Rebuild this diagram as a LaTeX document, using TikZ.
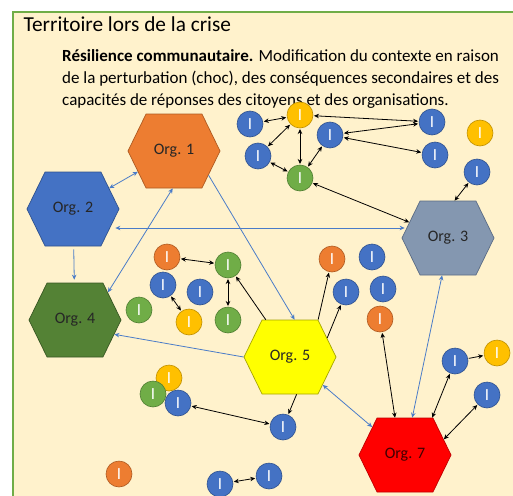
\documentclass[tikz,border=0pt]{standalone}
\usepackage{fontspec}
\setmainfont{Carlito}
\usetikzlibrary{shapes.symbols,arrows.meta,calc}
\definecolor{cream}{HTML}{FFF2CC}
\definecolor{frame}{HTML}{70AD47}
\definecolor{cB}{HTML}{4472C4}\definecolor{cBd}{HTML}{2F528F}
\definecolor{cY}{HTML}{FFC000}\definecolor{cYd}{HTML}{BF9000}
\definecolor{cG}{HTML}{70AD47}\definecolor{cGd}{HTML}{507E32}
\definecolor{cO}{HTML}{ED7D31}\definecolor{cOd}{HTML}{AE5A21}
\definecolor{hO}{HTML}{ED7D31}\definecolor{hOd}{HTML}{AE5A21}
\definecolor{hB}{HTML}{4472C4}\definecolor{hBd}{HTML}{2F528F}
\definecolor{hS}{HTML}{8497B0}\definecolor{hSd}{HTML}{5A6B85}
\definecolor{hG}{HTML}{548235}\definecolor{hGd}{HTML}{385723}
\definecolor{hY}{HTML}{FFFF00}\definecolor{hYd}{HTML}{A5A500}
\definecolor{hR}{HTML}{FF0000}\definecolor{hRd}{HTML}{C00000}
\definecolor{lblue}{HTML}{4A7CC8}
\tikzset{
  hexa/.style={signal, signal to=east and west, signal pointer angle=128,
    minimum width=92pt, minimum height=74pt, inner sep=0pt, line width=0.7pt,
    font=\fontsize{16}{18}\selectfont, text=black!85},
  ind/.style={circle, minimum size=26pt, inner sep=0pt, line width=0.6pt,
    text=white, font=\fontsize{17}{17}\selectfont, outer sep=1pt},
  iB/.style={ind, fill=cB, draw=cBd},
  iY/.style={ind, fill=cY, draw=cYd},
  iG/.style={ind, fill=cG, draw=cGd},
  iO/.style={ind, fill=cO, draw=cOd},
  tip/.tip={Stealth[length=5pt,width=4.5pt]},
  darr/.style={tip-tip, line width=0.8pt, draw=black},
  sarr/.style={-tip, line width=0.8pt, draw=black},
  bdarr/.style={tip-tip, line width=0.8pt, draw=lblue},
  bsarr/.style={-tip, line width=0.8pt, draw=lblue},
}
\begin{document}
\begin{tikzpicture}[x=1pt,y=-1pt]
\useasboundingbox (0,0) rectangle (513,495);
\clip (0,0) rectangle (513,495);
\fill[white] (0,0) rectangle (513,495);
\draw[frame, fill=cream, line width=2pt] (13,12) rectangle (540,520);
\node[anchor=base west, font=\fontsize{21.3}{24}\selectfont] (title) at (20,31) {Territoire lors de la crise};
\node[anchor=base west, font=\fontsize{17}{22}\selectfont, inner sep=0pt] (l1) at (62,61) {\textbf{Résilience communautaire.} Modification du contexte en raison};
\node[anchor=base west, font=\fontsize{17}{22}\selectfont, inner sep=0pt] (l2) at (62,83) {de la perturbation (choc), des conséquences secondaires et des};
\node[anchor=base west, font=\fontsize{17}{22}\selectfont, inner sep=0pt] (l3) at (62,105) {capacités de réponses des citoyens et des organisations.};

% organisations
\node[hexa, fill=hO, draw=hOd] (o1) at (174,151) {Org. 1};
\node[hexa, fill=hB, draw=hBd] (o2) at (73,209) {Org. 2};
\node[hexa, fill=hS, draw=hSd] (o3) at (448,238) {Org. 3};
\node[hexa, fill=hG, draw=hGd] (o4) at (75,320) {Org. 4};
\node[hexa, fill=hY, draw=hYd] (o5) at (290,357) {Org. 5};
\node[hexa, fill=hR, draw=hRd, text=black!75!red] (o7) at (405,455) {Org. 7};

% individuals
\node[iB] (c1) at (250,124) {I};
\node[iY] (c2) at (300,115) {I};
\node[iB] (c3) at (330,135) {I};
\node[iB] (c4) at (432,122) {I};
\node[iB] (c5) at (258,156) {I};
\node[iG] (c6) at (300,178) {I};
\node[iB] (c7) at (435,155) {I};
\node[iY] (c8) at (480,133) {I};
\node[iB] (c9) at (477,172) {I};
\node[iO] (d1) at (167,257) {I};
\node[iG] (d2) at (228,265) {I};
\node[iB] (d3) at (163,285) {I};
\node[iB] (d4) at (200,292) {I};
\node[iG] (d5) at (139,310) {I};
\node[iY] (d6) at (189,322) {I};
\node[iG] (d7) at (228,320) {I};
\node[iO] (e1) at (332,259) {I};
\node[iB] (e2) at (372,257) {I};
\node[iB] (e3) at (346,292) {I};
\node[iB] (e4) at (383,289) {I};
\node[iO] (e5) at (380,319) {I};
\node[iY] (f1) at (169,378) {I};
\node[iG] (f2) at (153,394) {I};
\node[iB] (f3) at (178,403) {I};
\node[iB] (f4) at (283,427) {I};
\node[iO] (f5) at (119,474) {I};
\node[iB] (f6) at (220,484) {I};
\node[iB] (f7) at (269,476) {I};
\node[iB] (g1) at (455,361) {I};
\node[iY] (g2) at (497,353) {I};
\node[iB] (g3) at (487,395) {I};

% black connectors
\draw[darr] (c1) -- (c2);
\draw[darr] (c2) -- (c4);
\draw[darr] (c2) -- (c5);
\draw[darr] (c2) -- (c6);
\draw[darr] (c5) -- (c6);
\draw[darr] (c3) -- (c6);
\draw[darr] (c3) -- (c4);
\draw[darr] (c3) -- (c7);
\draw[darr] (c6) -- (o3);
\draw[darr] (c9) -- (o3.80);
\draw[darr] (d1) -- (d2);
\draw[darr] (d3) -- (d6);
\draw[darr] (d2) -- (d7);
\draw[sarr] (o5.123) -- (d2);
\draw[sarr] (o5.53) -- (e1);
\draw[sarr] (o5.27) -- (e3);
\draw[darr] (e5) -- (o7.105);
\draw[darr] (f3) -- (f4);
\draw[sarr] (o5.-80) -- (f4);
\draw[darr] (f6) -- (f7);
\draw[darr] (g1) -- (o7.54);
\draw[sarr] (g1) -- (g2);
\draw[darr] (g3) -- (o7.22);

% blue connectors
\draw[bdarr] (o1) -- (o2);
\draw[bsarr, shorten >=3pt, shorten <=3pt] (o2) -- (o4);
\draw[bdarr] (o4.40) -- (o1.-92);
\draw[bdarr] ($(o2.east)+(-4,19)$) -- ($(o3.west)+(3,-10)$);
\draw[bsarr] (o1.-35) -- (o5.83);
\draw[bsarr] (o5.west) -- (o4.-20);
\draw[bdarr] (o5) -- (o7);
\draw[bdarr] (o3.-99) -- (o7.79);
\end{tikzpicture}
\end{document}
